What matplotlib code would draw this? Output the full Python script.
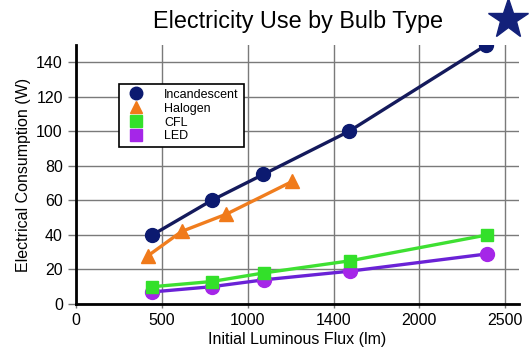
import matplotlib

matplotlib.use("Agg")
import matplotlib.pyplot as plt
from matplotlib.lines import Line2D

# lumens (x) vs watts (y)
inc_lm = [445, 790, 1090, 1590, 2390]
inc_w = [40, 60, 75, 100, 150]
hal_lm = [420, 615, 875, 1260]
hal_w = [28, 42, 52, 71]
cfl_lm = [445, 790, 1095, 1595, 2395]
cfl_w = [10, 13, 18, 25, 40]
led_lm = [445, 790, 1095, 1595, 2395]
led_w = [7, 10, 14, 19, 29]

x_ticks = [0, 500, 1000, 1500, 2000, 2500]
x_labels = ["0", "500", "1000", "1400", "2000", "2500"]
y_ticks = [0, 20, 40, 60, 80, 100, 120, 140]

plt.rcParams["font.family"] = ["Liberation Sans", "DejaVu Sans"]

fig = plt.figure(figsize=(5.29, 3.6), dpi=100)
ax = fig.add_axes([0.1437, 0.1556, 0.8373, 0.7194])

ax.plot(inc_lm, inc_w, "-o", color="#141a5c", lw=2.4, ms=10,
        mfc="#0c1a70", mec="#0c1a70", zorder=4)
ax.plot(hal_lm, hal_w, "-^", color="#f07d1e", lw=2.4, ms=10,
        mfc="#f07a1a", mec="#f07a1a", zorder=4)
ax.plot(cfl_lm, cfl_w, "-s", color="#3ee032", lw=2.4, ms=8.5,
        mfc="#33e02a", mec="#33e02a", zorder=4)
ax.plot(led_lm, led_w, "-o", color="#6a22d6", lw=2.4, ms=10,
        mfc="#a526e8", mec="#a526e8", zorder=3)

ax.set_xlim(0, 2580)
ax.set_ylim(0, 150)
ax.set_xticks(x_ticks)
ax.set_xticklabels(x_labels)
ax.set_yticks(y_ticks)
ax.tick_params(axis="both", labelsize=11.5, colors="black")
ax.tick_params(axis="y", length=6, width=1, color="#777")
ax.tick_params(axis="x", length=3, width=1, color="#777")
ax.grid(True, color="#7a7a7a", lw=1)
ax.set_axisbelow(True)
for s in ["top", "right"]:
    ax.spines[s].set_visible(False)
for s in ["left", "bottom"]:
    ax.spines[s].set_linewidth(2)
    ax.spines[s].set_color("black")

ax.set_xlabel("Initial Luminous Flux (lm)", fontsize=11.5, labelpad=3)
ax.set_ylabel("Electrical Consumption (W)", fontsize=11.5, labelpad=4)
fig.text(0.563, 0.94, "Electricity Use by Bulb Type", fontsize=16.8,
         ha="center", va="center")

# star in the top-right corner
fig.lines.append(Line2D([0.96], [0.948], marker="*", ms=30, color="#13217a",
                        transform=fig.transFigure))

handles = [
    Line2D([], [], ls="none", marker="o", ms=9, color="#0c1a70"),
    Line2D([], [], ls="none", marker="^", ms=9, color="#f07a1a"),
    Line2D([], [], ls="none", marker="s", ms=8, color="#33e02a"),
    Line2D([], [], ls="none", marker="s", ms=8, color="#a526e8"),
]
leg = ax.legend(handles, ["Incandescent", "Halogen", "CFL", "LED"],
                loc="upper left", bbox_to_anchor=(0.097, 0.85), borderaxespad=0,
                fontsize=9, fancybox=False, framealpha=1, edgecolor="black",
                labelspacing=0.15, handletextpad=1.2, borderpad=0.4)
leg.get_frame().set_linewidth(1.2)

fig.savefig("out.png", dpi=100)
